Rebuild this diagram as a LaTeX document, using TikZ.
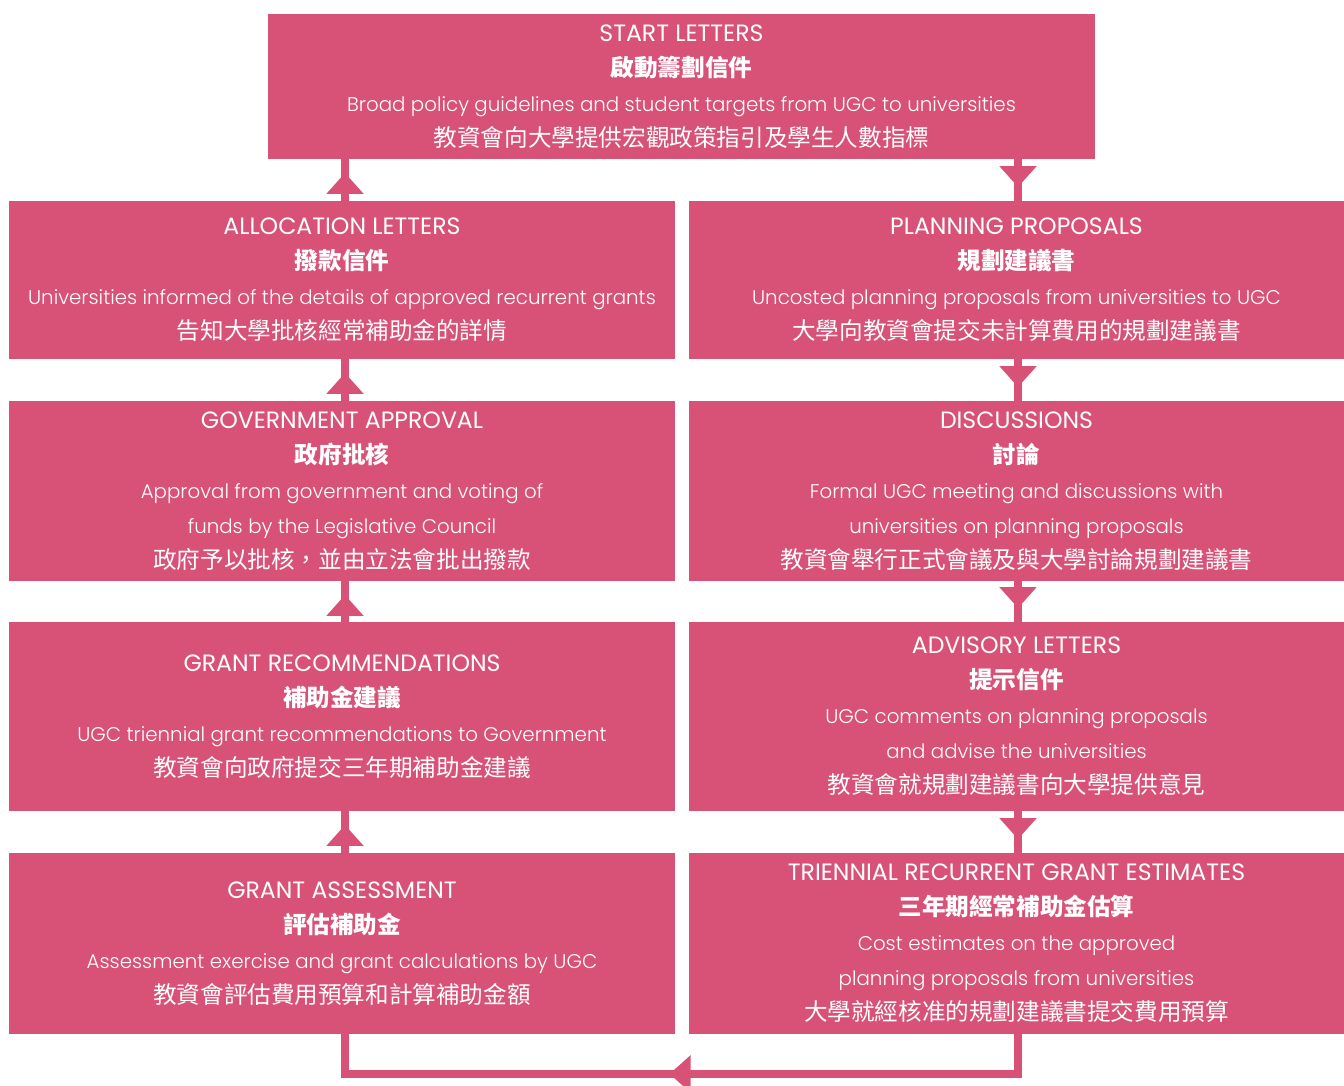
\documentclass[tikz,border=0pt]{standalone}
\usepackage{fontspec}
\usetikzlibrary{positioning,calc,arrows.meta,decorations.markings}

\newfontfamily\entitlefont{Poppins}
\newfontfamily\enbodyfont{Poppins Light}
\newfontfamily\cjkfont{Noto Sans CJK TC}
\definecolor{ugcpink}{RGB}{216,81,118}

\newcommand\stagefont{\fontsize{10}{17.5}\selectfont\lineskiplimit=-20pt\relax}
\newcommand\sttitle[1]{{\entitlefont\fontsize{11.8}{17.5}\selectfont #1}}
\newcommand\stzh[1]{{\cjkfont\bfseries\fontsize{11.8}{17.5}\selectfont #1}}
\newcommand\stbody[1]{{\enbodyfont\fontsize{9.9}{17.5}\selectfont #1}}
\newcommand\stzhbody[1]{{\cjkfont\fontsize{11.8}{17.5}\selectfont #1}}

\begin{document}
\begin{tikzpicture}[x=0.5pt,y=-0.5pt,
  stage/.style={fill=ugcpink,text=white,align=center,inner sep=0pt,
    minimum width=333pt,font=\stagefont},
  flow/.style={draw=ugcpink,line width=3.6pt,postaction={decorate},
    decoration={markings,mark=at position #1 with
      {\arrow{Triangle[width=18pt,length=10.5pt]}}}},
  flow/.default=-6.75pt,
  ]
  \useasboundingbox (0,0) rectangle (1344,1086);
  \coordinate (lx) at (345,0);
  \coordinate (rx) at (1018,0);

  % top
  \node[stage,minimum width=413.5pt,minimum height=72.5pt] (start) at (681.5,86.5)
    {\sttitle{START LETTERS}\\
     \stzh{啟動籌劃信件}\\
     \stbody{Broad policy guidelines and student targets from UGC to universities}\\
     \stzhbody{教資會向大學提供宏觀政策指引及學生人數指標}};

  % left column
  \node[stage,minimum height=79pt] (alloc) at (342,280)
    {\sttitle{ALLOCATION LETTERS}\\
     \stzh{撥款信件}\\
     \stbody{Universities informed of the details of approved recurrent grants}\\
     \stzhbody{告知大學批核經常補助金的詳情}};
  \node[stage,minimum height=90pt] (gov) at (342,491)
    {\sttitle{GOVERNMENT APPROVAL}\\
     \stzh{政府批核}\\
     \stbody{Approval from government and voting of}\\
     \stbody{funds by the Legislative Council}\\
     \stzhbody{政府予以批核，並由立法會批出撥款}};
  \node[stage,minimum height=94.5pt] (grantrec) at (342,716.5)
    {\sttitle{GRANT RECOMMENDATIONS}\\
     \stzh{補助金建議}\\
     \stbody{UGC triennial grant recommendations to Government}\\
     \stzhbody{教資會向政府提交三年期補助金建議}};
  \node[stage,minimum height=90.5pt] (assess) at (342,943.5)
    {\sttitle{GRANT ASSESSMENT}\\
     \stzh{評估補助金}\\
     \stbody{Assessment exercise and grant calculations by UGC}\\
     \stzhbody{教資會評估費用預算和計算補助金額}};

  % right column
  \node[stage,minimum width=327.5pt,minimum height=79pt] (plan) at (1016.5,280)
    {\sttitle{PLANNING PROPOSALS}\\
     \stzh{規劃建議書}\\
     \stbody{Uncosted planning proposals from universities to UGC}\\
     \stzhbody{大學向教資會提交未計算費用的規劃建議書}};
  \node[stage,minimum width=327.5pt,minimum height=90pt] (disc) at (1016.5,491)
    {\sttitle{DISCUSSIONS}\\
     \stzh{討論}\\
     \stbody{Formal UGC meeting and discussions with}\\
     \stbody{universities on planning proposals}\\
     \stzhbody{教資會舉行正式會議及與大學討論規劃建議書}};
  \node[stage,minimum width=327.5pt,minimum height=94.5pt] (advisory) at (1016.5,716.5)
    {\sttitle{ADVISORY LETTERS}\\
     \stzh{提示信件}\\
     \stbody{UGC comments on planning proposals}\\
     \stbody{and advise the universities}\\
     \stzhbody{教資會就規劃建議書向大學提供意見}};
  \node[stage,minimum width=327.5pt,minimum height=90.5pt] (triennial) at (1016.5,943.5)
    {\sttitle{TRIENNIAL RECURRENT GRANT ESTIMATES}\\
     \stzh{三年期經常補助金估算}\\
     \stbody{Cost estimates on the approved}\\
     \stbody{planning proposals from universities}\\
     \stzhbody{大學就經核准的規劃建議書提交費用預算}};

  % connectors
  \path[flow] (start.south -| rx) -- (plan.north -| rx);
  \path[flow] (plan.south -| rx) -- (disc.north -| rx);
  \path[flow] (disc.south -| rx) -- (advisory.north -| rx);
  \path[flow] (advisory.south -| rx) -- (triennial.north -| rx);
  \path[flow=-182pt] (triennial.south -| rx) -- ++(0,39.5) -| (assess.south -| lx);
  \path[flow] (assess.north -| lx) -- (grantrec.south -| lx);
  \path[flow] (grantrec.north -| lx) -- (gov.south -| lx);
  \path[flow] (gov.north -| lx) -- (alloc.south -| lx);
  \path[flow] (alloc.north -| lx) -- (start.south -| lx);
\end{tikzpicture}
\end{document}
